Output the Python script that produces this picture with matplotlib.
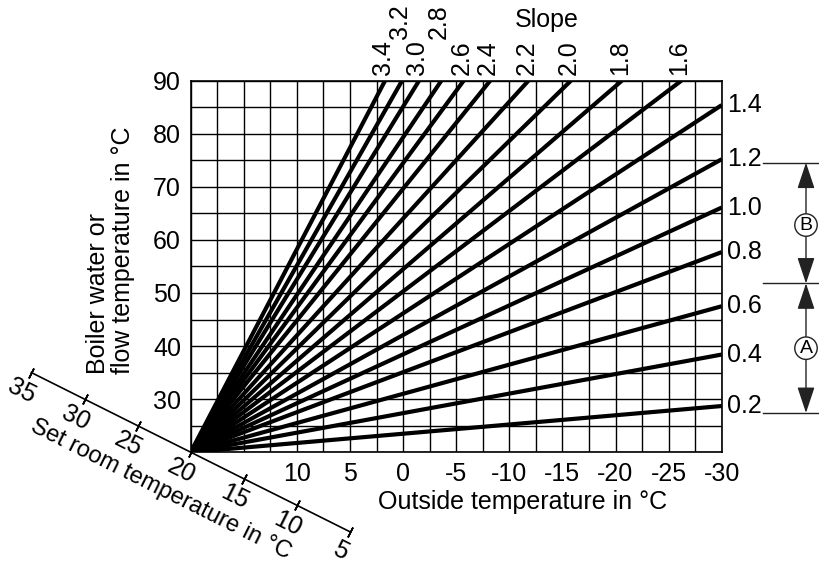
import math
import matplotlib
matplotlib.use("Agg")
import matplotlib.pyplot as plt
import matplotlib.transforms as mtransforms
import numpy as np

plt.rcParams['font.family'] = ['Liberation Sans', 'DejaVu Sans']
plt.rcParams['font.size'] = 18

# heating curves: all start at outside 20 / flow 20
pivot = 20
slopes = [0.2, 0.4, 0.6, 0.8, 1.0, 1.2, 1.4, 1.6, 1.8, 2.0, 2.2, 2.4, 2.6, 2.8, 3.0, 3.2, 3.4]
slope_labels = ['0.2', '0.4', '0.6', '0.8', '1.0', '1.2', '1.4', '1.6', '1.8', '2.0',
                '2.2', '2.4', '2.6', '2.8', '3.0', '3.2', '3.4']
end_outside = [-30, -30, -30, -30, -30, -30, -30, -26.2, -20.6, -15.8, -11.8, -8.2, -5.7, -3.6, -1.5, 0.1, 1.7]
end_flow = [28.7, 38.4, 47.5, 57.7, 66.1, 75.2, 85.4, 90, 90, 90, 90, 90, 90, 90, 90, 90, 90]
raised = ['3.2', '2.8']

x_ticks = [10, 5, 0, -5, -10, -15, -20, -25, -30]
y_ticks = [30, 40, 50, 60, 70, 80, 90]
room_ticks = [35, 30, 25, 20, 15, 10, 5]

# bracket levels (flow temperature) and circle markers
bracket_levels = [74.55, 51.8, 27.4]
bracket_marks = [('B', 62.8), ('A', 39.6)]

W, H = 819, 566
fig = plt.figure(figsize=(W / 100, H / 100), dpi=100)
ax = fig.add_axes([190.7 / W, 1 - 452.2 / H, (721.7 - 190.7) / W, (452.2 - 80.7) / H])
ax.set_xlim(20, -30)
ax.set_ylim(20, 90)

ax.set_xticks(x_ticks)
ax.set_xticklabels([str(t) for t in x_ticks])
ax.set_yticks(y_ticks)
ax.set_xticks(np.arange(-30, 20.1, 2.5), minor=True)
ax.set_yticks(np.arange(20, 90.1, 5), minor=True)
ax.tick_params(which='both', length=0)
ax.tick_params(axis='x', pad=7)
ax.tick_params(axis='y', pad=7)
ax.grid(which='both', color='black', lw=1.0)
for s in ax.spines.values():
    s.set_linewidth(1.2)
ax.set_axisbelow(True)

for s, lab, xe, ye in zip(slopes, slope_labels, end_outside, end_flow):
    ax.plot([pivot, xe], [pivot, ye], color='black', lw=3, solid_capstyle='butt', zorder=3)
    if ye < 90:
        ax.annotate(lab, (xe, ye), xytext=(4, 0), textcoords='offset points',
                    ha='left', va='center', annotation_clip=False)
    else:
        dy = 30 if lab in raised else 4
        ax.annotate(lab, (xe, ye), xytext=(-1.5, dy), textcoords='offset points',
                    rotation=90, ha='center', va='bottom', annotation_clip=False)

# set room temperature axis along flow == outside
p0 = ax.transData.transform((20, 20))
p1 = ax.transData.transform((5, 5))
ang = math.degrees(math.atan2(p1[1] - p0[1], p1[0] - p0[0]))
ax.plot([room_ticks[0], room_ticks[-1]], [room_ticks[0], room_ticks[-1]], color='black',
        lw=1.2, clip_on=False)
ax.plot(room_ticks, room_ticks, ls='none', marker=(2, 2, ang), ms=8, mew=1.2,
        color='black', clip_on=False)
nx, ny = -math.sin(math.radians(-ang)), -math.cos(math.radians(-ang))
for r in room_ticks:
    ax.annotate(str(r), (r, r), xytext=(15 * nx, 15 * ny), textcoords='offset points',
                rotation=ang, rotation_mode='anchor', ha='center', va='center',
                annotation_clip=False)
ax.annotate('Set room temperature in °C', (20.9, 20.9), xytext=(33.5 * nx, 33.5 * ny),
            textcoords='offset points', rotation=ang, rotation_mode='anchor',
            ha='center', va='center', fontsize=17, annotation_clip=False)

# axis titles
fig.text(523 / W, 1 - 502 / H, 'Outside temperature in °C', ha='center', va='center')
fig.text(547 / W, 1 - 20 / H, 'Slope', ha='center', va='center')
fig.text(110.5 / W, 1 - 374 / H, 'Boiler water or\nflow temperature in °C', rotation=90,
         rotation_mode='anchor', ha='left', va='center', multialignment='left',
         linespacing=1.02)

# brackets on the right
bt = mtransforms.blended_transform_factory(fig.transFigure, ax.transData)
for lv in bracket_levels:
    ax.plot([763 / W, 1.0], [lv, lv], color='#222222', lw=1, transform=bt, clip_on=False)
ax_x = 806 / W
for (lab, yc), top, bot in zip(bracket_marks, bracket_levels[:-1], bracket_levels[1:]):
    for yend in (top, bot):
        ax.annotate('', xy=(ax_x, yend), xytext=(ax_x, yc), xycoords=bt, textcoords=bt,
                    arrowprops=dict(arrowstyle='-|>,head_length=0.9,head_width=0.3',
                                    color='#222222', lw=1, shrinkA=0, shrinkB=0),
                    annotation_clip=False)
    ax.text(ax_x, yc, lab, transform=bt, ha='center', va='center', fontsize=14,
            bbox=dict(boxstyle='circle,pad=0.14', fc='white', ec='#222222', lw=1), zorder=5)

fig.savefig('out.png', dpi=100)
